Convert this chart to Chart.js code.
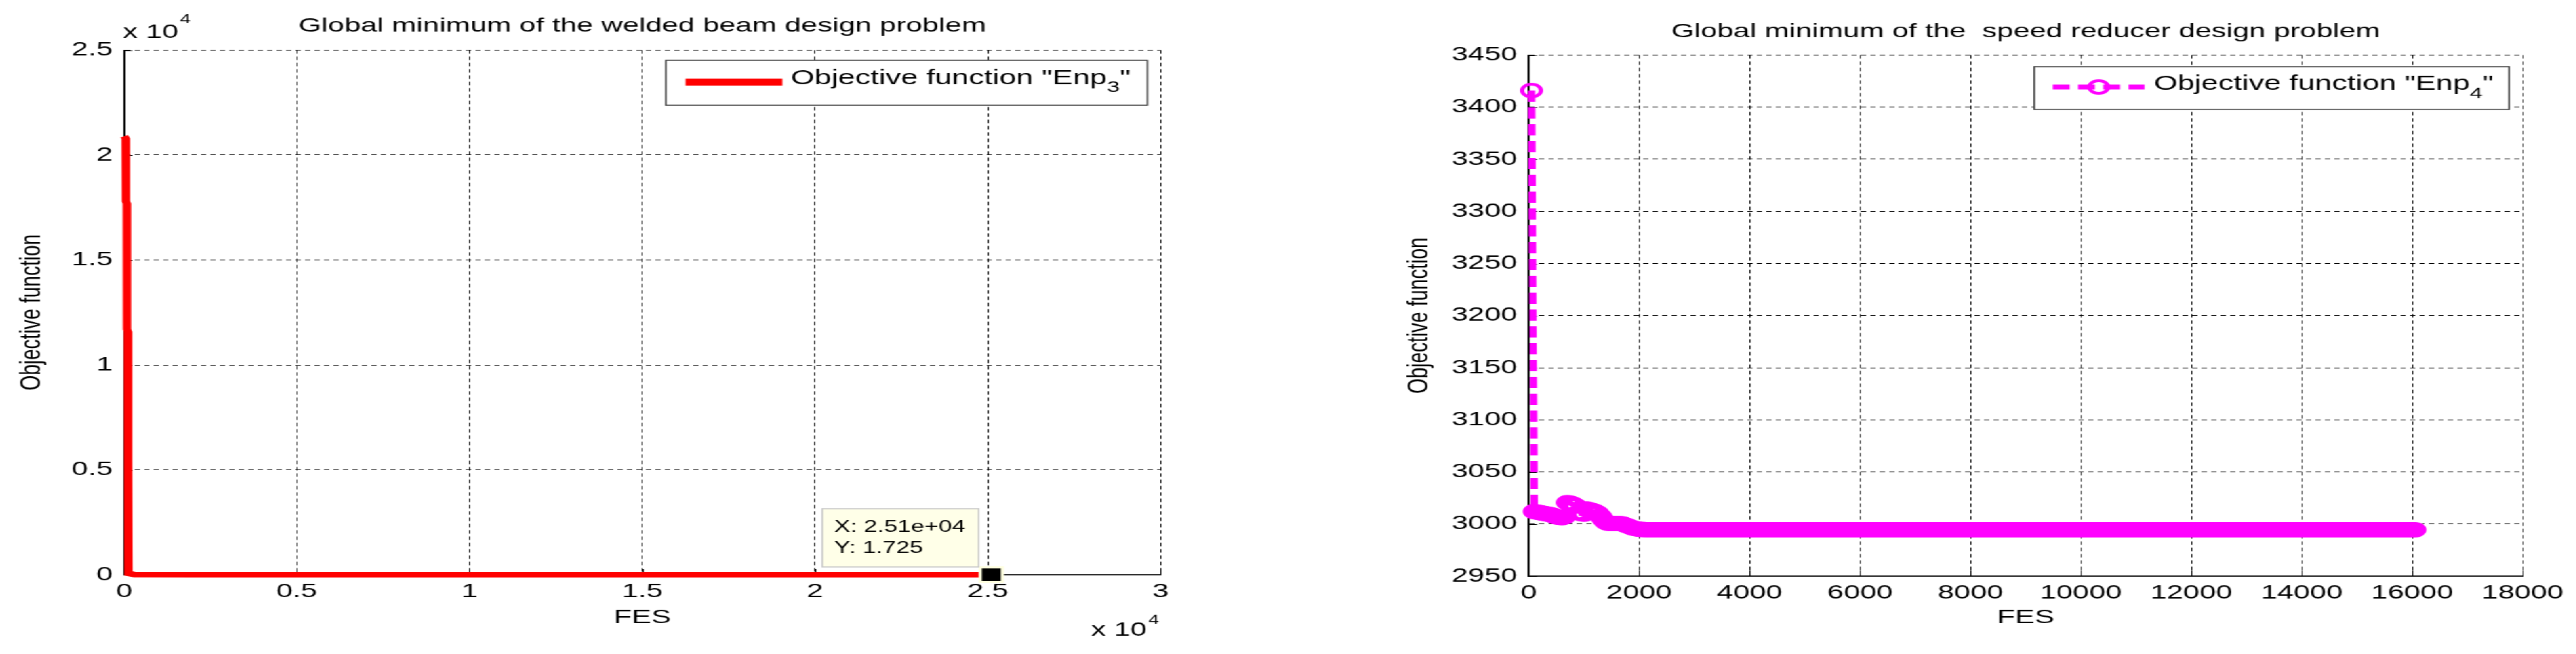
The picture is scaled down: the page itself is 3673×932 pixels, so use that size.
<!DOCTYPE html>
<html>
<head>
<meta charset="utf-8">
<title>Global minimum of the design problems</title>
<script src="https://cdn.jsdelivr.net/npm/chart.js@4.4.1/dist/chart.umd.min.js"></script>
<style>
  html, body { margin:0; padding:0; background:#fff; width:3673px; height:932px; overflow:hidden; }
  #stage { position:absolute; left:0; top:0; width:2449px; height:932px; transform:scaleX(1.5); transform-origin:0 0; }
  #cL { position:absolute; left:0; top:0; }
  #cR { position:absolute; left:1290px; top:0; }
</style>
</head>
<body>
<div id="stage">
  <canvas id="cL" width="1213" height="932"></canvas>
  <canvas id="cR" width="1159" height="932"></canvas>
</div>
<script>
const FONT = "'Liberation Sans', Arial, Helvetica, sans-serif";
Chart.defaults.font.family = FONT;
Chart.defaults.color = '#000';

// ---------------- texts ----------------
const titleLeft = 'Global minimum of the welded beam design problem';
const titleRight = 'Global minimum of the  speed reducer design problem';
const xTitle = 'FES';
const yTitle = 'Objective function';
const legendMain = 'Objective function "Enp';
const legendEnd = '"';
const legendSubLeft = '3';
const legendSubRight = '4';
const multiplierText = ['x 10', '4'];

// ---------------- left chart data (welded beam) ----------------
const fesLeft = [0, 40, 50, 75, 80, 100, 105, 120, 125, 300, 2000, 25100];
const valLeft = [20900, 20800, 17800, 17700, 11700, 11600, 5600, 5500, 60, 5, 2, 1.725];
const tipFes = [25100];
const tipVal = [1.725];

const xTickValsLeft = [0, 5000, 10000, 15000, 20000, 25000, 30000];
const xTickLabelsLeft = ['0', '0.5', '1', '1.5', '2', '2.5', '3'];
const yTickValsLeft = [0, 5000, 10000, 15000, 20000, 25000];
const yTickLabelsLeft = ['0', '0.5', '1', '1.5', '2', '2.5'];

// ---------------- right chart data (speed reducer) ----------------
const fesRight = [
50,100,150,200,250,300,350,400,450,500,550,600,650,700,750,800,850,900,950,1000,
1050,1100,1150,1200,1250,1300,1350,1400,1450,1500,1550,1600,1650,1700,1750,1800,1850,1900,1950,2000,
2050,2100,2150,2200,2250,2300,2350,2400,2450,2500,2550,2600,2650,2700,2750,2800,2850,2900,2950,3000,
3050,3100,3150,3200,3250,3300,3350,3400,3450,3500,3550,3600,3650,3700,3750,3800,3850,3900,3950,4000,
4050,4100,4150,4200,4250,4300,4350,4400,4450,4500,4550,4600,4650,4700,4750,4800,4850,4900,4950,5000,
5050,5100,5150,5200,5250,5300,5350,5400,5450,5500,5550,5600,5650,5700,5750,5800,5850,5900,5950,6000,
6050,6100,6150,6200,6250,6300,6350,6400,6450,6500,6550,6600,6650,6700,6750,6800,6850,6900,6950,7000,
7050,7100,7150,7200,7250,7300,7350,7400,7450,7500,7550,7600,7650,7700,7750,7800,7850,7900,7950,8000,
8050,8100,8150,8200,8250,8300,8350,8400,8450,8500,8550,8600,8650,8700,8750,8800,8850,8900,8950,9000,
9050,9100,9150,9200,9250,9300,9350,9400,9450,9500,9550,9600,9650,9700,9750,9800,9850,9900,9950,10000,
10050,10100,10150,10200,10250,10300,10350,10400,10450,10500,10550,10600,10650,10700,10750,10800,10850,10900,10950,11000,
11050,11100,11150,11200,11250,11300,11350,11400,11450,11500,11550,11600,11650,11700,11750,11800,11850,11900,11950,12000,
12050,12100,12150,12200,12250,12300,12350,12400,12450,12500,12550,12600,12650,12700,12750,12800,12850,12900,12950,13000,
13050,13100,13150,13200,13250,13300,13350,13400,13450,13500,13550,13600,13650,13700,13750,13800,13850,13900,13950,14000,
14050,14100,14150,14200,14250,14300,14350,14400,14450,14500,14550,14600,14650,14700,14750,14800,14850,14900,14950,15000,
15050,15100,15150,15200,15250,15300,15350,15400,15450,15500,15550,15600,15650,15700,15750,15800,15850,15900,15950,16000,
16050];
const valRight = [
3416,3012,3011.5,3011,3010.5,3010,3009.5,3009,3008,3007,3006.5,3006,3007,3020.5,3020,3019,3017.5,3011,3010,3009.5,
3014.5,3013.5,3013,3012,3010.5,3007.5,3004,3001.5,3000.5,3000.5,3000.5,3000.5,3000.5,3000,2999,2998,2997,2996,2995.5,2995,
2994.8,2994.6,2994.5,2994.47,2994.47,2994.47,2994.47,2994.47,2994.47,2994.47,2994.47,2994.47,2994.47,2994.47,2994.47,2994.47,2994.47,2994.47,2994.47,2994.47,
2994.47,2994.47,2994.47,2994.47,2994.47,2994.47,2994.47,2994.47,2994.47,2994.47,2994.47,2994.47,2994.47,2994.47,2994.47,2994.47,2994.47,2994.47,2994.47,2994.47,
2994.47,2994.47,2994.47,2994.47,2994.47,2994.47,2994.47,2994.47,2994.47,2994.47,2994.47,2994.47,2994.47,2994.47,2994.47,2994.47,2994.47,2994.47,2994.47,2994.47,
2994.47,2994.47,2994.47,2994.47,2994.47,2994.47,2994.47,2994.47,2994.47,2994.47,2994.47,2994.47,2994.47,2994.47,2994.47,2994.47,2994.47,2994.47,2994.47,2994.47,
2994.47,2994.47,2994.47,2994.47,2994.47,2994.47,2994.47,2994.47,2994.47,2994.47,2994.47,2994.47,2994.47,2994.47,2994.47,2994.47,2994.47,2994.47,2994.47,2994.47,
2994.47,2994.47,2994.47,2994.47,2994.47,2994.47,2994.47,2994.47,2994.47,2994.47,2994.47,2994.47,2994.47,2994.47,2994.47,2994.47,2994.47,2994.47,2994.47,2994.47,
2994.47,2994.47,2994.47,2994.47,2994.47,2994.47,2994.47,2994.47,2994.47,2994.47,2994.47,2994.47,2994.47,2994.47,2994.47,2994.47,2994.47,2994.47,2994.47,2994.47,
2994.47,2994.47,2994.47,2994.47,2994.47,2994.47,2994.47,2994.47,2994.47,2994.47,2994.47,2994.47,2994.47,2994.47,2994.47,2994.47,2994.47,2994.47,2994.47,2994.47,
2994.47,2994.47,2994.47,2994.47,2994.47,2994.47,2994.47,2994.47,2994.47,2994.47,2994.47,2994.47,2994.47,2994.47,2994.47,2994.47,2994.47,2994.47,2994.47,2994.47,
2994.47,2994.47,2994.47,2994.47,2994.47,2994.47,2994.47,2994.47,2994.47,2994.47,2994.47,2994.47,2994.47,2994.47,2994.47,2994.47,2994.47,2994.47,2994.47,2994.47,
2994.47,2994.47,2994.47,2994.47,2994.47,2994.47,2994.47,2994.47,2994.47,2994.47,2994.47,2994.47,2994.47,2994.47,2994.47,2994.47,2994.47,2994.47,2994.47,2994.47,
2994.47,2994.47,2994.47,2994.47,2994.47,2994.47,2994.47,2994.47,2994.47,2994.47,2994.47,2994.47,2994.47,2994.47,2994.47,2994.47,2994.47,2994.47,2994.47,2994.47,
2994.47,2994.47,2994.47,2994.47,2994.47,2994.47,2994.47,2994.47,2994.47,2994.47,2994.47,2994.47,2994.47,2994.47,2994.47,2994.47,2994.47,2994.47,2994.47,2994.47,
2994.47,2994.47,2994.47,2994.47,2994.47,2994.47,2994.47,2994.47,2994.47,2994.47,2994.47,2994.47,2994.47,2994.47,2994.47,2994.47,2994.47,2994.47,2994.47,2994.47,
2994.47];

const xTickValsRight = [0, 2000, 4000, 6000, 8000, 10000, 12000, 14000, 16000, 18000];
const xTickLabelsRight = ['0', '2000', '4000', '6000', '8000', '10000', '12000', '14000', '16000', '18000'];
const yTickValsRight = [2950, 3000, 3050, 3100, 3150, 3200, 3250, 3300, 3350, 3400, 3450];
const yTickLabelsRight = ['2950', '3000', '3050', '3100', '3150', '3200', '3250', '3300', '3350', '3400', '3450'];

// ---------------- helpers ----------------
function fmtExp(v) {
  const e = Math.floor(Math.log10(Math.abs(v)));
  const m = (v / Math.pow(10, e)).toFixed(2);
  return m + 'e' + (e >= 0 ? '+' : '-') + String(Math.abs(e)).padStart(2, '0');
}

const decor = {
  id: 'decor',
  beforeDatasetsDraw(chart, args, o) {
    const ctx = chart.ctx, ca = chart.chartArea;
    const xs = chart.scales.x, ys = chart.scales.y;
    ctx.save();
    ctx.strokeStyle = '#000';
    ctx.lineWidth = 1;
    ctx.beginPath();
    xs.ticks.forEach(t => {
      const p = Math.round(xs.getPixelForValue(t.value)) + 0.5;
      ctx.moveTo(p, ca.bottom); ctx.lineTo(p, ca.bottom - o.tick);
    });
    ys.ticks.forEach(t => {
      const p = Math.round(ys.getPixelForValue(t.value)) + 0.5;
      ctx.moveTo(ca.left, p); ctx.lineTo(ca.left + o.tick, p);
    });
    ctx.stroke();
    ctx.restore();
  },
  afterDraw(chart, args, o) {
    const ctx = chart.ctx, ca = chart.chartArea;
    const xs = chart.scales.x, ys = chart.scales.y;
    ctx.save();
    ctx.textAlign = 'left';
    ctx.textBaseline = 'alphabetic';
    ctx.fillStyle = '#000';

    // legend box
    const L = o.legend;
    const ds = chart.data.datasets[L.dataset];
    const fMain = L.size + 'px ' + FONT, fSub = L.subSize + 'px ' + FONT;
    ctx.font = fMain;
    const wMain = ctx.measureText(legendMain).width;
    const wEnd = ctx.measureText(legendEnd).width;
    ctx.font = fSub;
    const wSub = ctx.measureText(L.sub).width;
    const boxW = L.textX + wMain + wSub + wEnd + L.padR;
    const right = ca.right - L.gapR, top = ca.top + L.gapT, left = right - boxW;
    ctx.fillStyle = '#fff';
    ctx.fillRect(left, top, boxW, L.h);
    ctx.strokeStyle = '#3a3a3a';
    ctx.lineWidth = 1.5;
    ctx.strokeRect(left, top, boxW, L.h);
    const sy = top + L.sampleY;
    ctx.strokeStyle = ds.borderColor;
    ctx.lineWidth = L.lineW;
    ctx.setLineDash(ds.borderDash || []);
    ctx.beginPath();
    ctx.moveTo(left + L.sx, sy); ctx.lineTo(left + L.sx + L.sl, sy);
    ctx.stroke();
    ctx.setLineDash([]);
    if (ds.pointRadius > 0) {
      ctx.lineWidth = ds.pointBorderWidth;
      ctx.strokeStyle = ds.pointBorderColor;
      ctx.beginPath();
      ctx.arc(left + L.sx + L.sl / 2, sy, ds.pointRadius, 0, Math.PI * 2);
      ctx.stroke();
    }
    ctx.fillStyle = '#000';
    let tx = left + L.textX;
    const by = top + L.base;
    ctx.font = fMain; ctx.fillText(legendMain, tx, by); tx += wMain;
    ctx.font = fSub; ctx.fillText(L.sub, tx, by + L.subDy); tx += wSub;
    ctx.font = fMain; ctx.fillText(legendEnd, tx, by);

    // axis multipliers
    if (o.mult) {
      const fBig = '28px ' + FONT, fSmall = '18px ' + FONT;
      ctx.font = fBig;
      const w10 = ctx.measureText(multiplierText[0]).width;
      ctx.fillText(multiplierText[0], ca.left - 1.3, ca.top - 17.5);
      ctx.font = fSmall;
      ctx.fillText(multiplierText[1], ca.left - 1.3 + w10 + 1.5, ca.top - 38.5);
      const w4 = ctx.measureText(multiplierText[1]).width;
      ctx.textAlign = 'right';
      ctx.fillText(multiplierText[1], ca.right - 1.6, ca.bottom + 70);
      ctx.font = fBig;
      ctx.fillText(multiplierText[0], ca.right - 1.6 - w4 - 1.5, ca.bottom + 87);
      ctx.textAlign = 'left';
    }

    // data tip
    if (o.tip) {
      const px = xs.getPixelForValue(tipFes[0]), py = ys.getPixelForValue(tipVal[0]);
      ctx.font = '23px ' + FONT;
      const l1 = 'X: ' + fmtExp(tipFes[0]);
      const l2 = 'Y: ' + String(tipVal[0]);
      const tw = Math.max(ctx.measureText(l1).width, ctx.measureText(l2).width);
      const bw = tw + 24, bh = 83;
      const bx = px - 12 - bw, byy = py - 11 - bh;
      ctx.fillStyle = '#FFFFE8';
      ctx.fillRect(bx, byy, bw, bh);
      ctx.strokeStyle = '#c8c8c8';
      ctx.lineWidth = 1.5;
      ctx.strokeRect(bx, byy, bw, bh);
      ctx.fillStyle = '#000';
      ctx.fillText(l1, bx + 11.4, byy + 33);
      ctx.fillText(l2, bx + 11.4, byy + 63);
    }
    ctx.restore();
  }
};

function makeChart(canvas, cfg) {
  return new Chart(canvas, {
    type: 'line',
    data: { datasets: cfg.datasets },
    options: {
      responsive: false,
      animation: false,
      events: [],
      layout: { padding: { left: 0, top: 0, bottom: 0, right: cfg.padRight } },
      scales: {
        x: {
          type: 'linear',
          min: cfg.xVals[0], max: cfg.xVals[cfg.xVals.length - 1],
          afterBuildTicks: s => { s.ticks = cfg.xVals.map(v => ({ value: v })); },
          afterFit: s => { s.height = cfg.xH; },
          ticks: { autoSkip: false, maxRotation: 0, padding: 7, font: { size: 28 }, color: '#000',
                   callback: (v, i) => cfg.xLabels[i] },
          grid: { color: '#000', lineWidth: 1, drawTicks: false },
          border: { display: true, color: '#2a2a2a', width: 2, dash: [5, 4] },
          title: { display: true, text: xTitle, font: { size: 28 }, color: '#000', padding: { top: 0, bottom: 35.2 } }
        },
        y: {
          type: 'linear',
          min: cfg.yVals[0], max: cfg.yVals[cfg.yVals.length - 1],
          afterBuildTicks: s => { s.ticks = cfg.yVals.map(v => ({ value: v })); },
          afterFit: s => { s.width = cfg.yW; },
          ticks: { autoSkip: false, padding: 11, font: { size: 28 }, color: '#000',
                   callback: (v, i) => cfg.yLabels[i] },
          grid: { color: '#000', lineWidth: 1, drawTicks: false },
          border: { display: true, color: '#000', width: 2, dash: [5, 4] },
          title: { display: true, text: yTitle, font: { size: 28 }, color: '#000', padding: { top: cfg.yTitlePad, bottom: 0 } }
        }
      },
      plugins: {
        legend: { display: false },
        tooltip: { enabled: false },
        title: { display: true, text: cfg.title, fullSize: false, font: { size: 28, weight: 'normal' }, color: '#000',
                 padding: { top: cfg.tPadTop, bottom: cfg.tPadBot } },
        decor: cfg.decor
      }
    },
    plugins: [decor]
  });
}

// ---------------- left chart ----------------
makeChart(document.getElementById('cL'), {
  title: titleLeft,
  padRight: 109.7, xH: 113, yW: 118, yTitlePad: 13.9, tPadTop: 20.2, tPadBot: 17.7,
  xVals: xTickValsLeft, xLabels: xTickLabelsLeft, yVals: yTickValsLeft, yLabels: yTickLabelsLeft,
  datasets: [
    { label: 'datatip', data: tipFes.map((f, i) => ({ x: f, y: tipVal[i] })), showLine: false,
      pointStyle: 'rect', pointRadius: 14.85, pointBackgroundColor: '#000', pointBorderColor: '#FFFFE0',
      pointBorderWidth: 3, order: 0, clip: false },
    { label: 'Objective function "Enp₃"', data: fesLeft.map((f, i) => ({ x: f, y: valLeft[i] })),
      borderColor: '#FF0000', backgroundColor: '#FF0000', borderWidth: 8, pointRadius: 0, tension: 0,
      fill: false, order: 1, clip: false }
  ],
  decor: { tick: 8, mult: true, tip: true,
    legend: { dataset: 1, sub: legendSubLeft, size: 29, subSize: 22, h: 64, gapR: 12.6, gapT: 14.5,
              sx: 18.7, sl: 92, sampleY: 31, textX: 118.7, padR: 16, base: 34, subDy: 11, lineW: 10 } }
});

// ---------------- right chart ----------------
makeChart(document.getElementById('cR'), {
  title: titleRight,
  padRight: 51, xH: 111, yW: 163.3, yTitlePad: 42.2, tPadTop: 28.2, tPadBot: 16.7,
  xVals: xTickValsRight, xLabels: xTickLabelsRight, yVals: yTickValsRight, yLabels: yTickLabelsRight,
  datasets: [
    { label: 'Objective function "Enp₄"', data: fesRight.map((f, i) => ({ x: f, y: valRight[i] })),
      borderColor: '#FF00FF', backgroundColor: 'rgba(255,0,255,0)', borderWidth: 7, borderDash: [16, 8],
      pointStyle: 'circle', pointRadius: 9, pointBorderWidth: 4, pointBorderColor: '#FF00FF',
      pointBackgroundColor: 'rgba(255,255,255,0)', tension: 0, fill: false, clip: false }
  ],
  decor: { tick: 8, mult: false, tip: false,
    legend: { dataset: 0, sub: legendSubRight, size: 29, subSize: 22, h: 61, gapR: 12.8, gapT: 16.5,
              sx: 17.6, sl: 87.3, sampleY: 29, textX: 113.6, padR: 14.8, base: 33, subDy: 12, lineW: 7 } }
});
</script>
</body>
</html>
